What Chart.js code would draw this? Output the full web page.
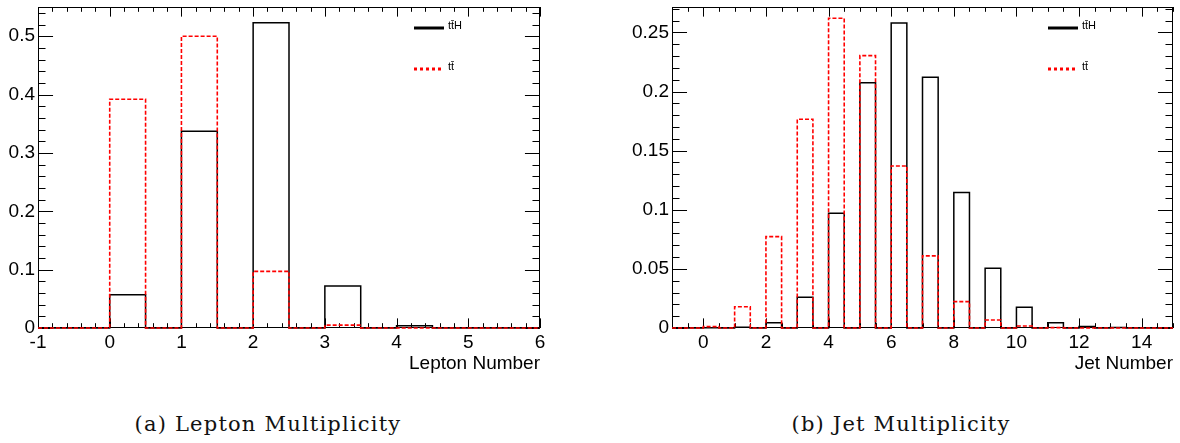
<!DOCTYPE html>
<html lang="en">

<head>
    <meta charset="UTF-8">
    <title>Lepton and Jet Multiplicity</title>
    <script src="https://cdn.jsdelivr.net/npm/chart.js"></script>
    <style>
        body {
            margin: 0;
            background: #fff;
            width: 1180px;
            height: 443px;
            position: relative;
            overflow: hidden;
        }

        .panel {
            position: absolute;
            top: 0;
            width: 590px;
            height: 380px;
        }

        .caption {
            position: absolute;
            top: 412px;
            line-height: 24px;
            font-family: 'DejaVu Serif', serif;
            font-size: 21px;
            letter-spacing: 1.2px;
            color: #111;
            white-space: nowrap;
            transform: translateX(-50%);
        }
    </style>
</head>

<body>
    <div class="panel" style="left:0"><canvas id="leptonChart"></canvas></div>
    <div class="panel" style="left:590px"><canvas id="jetChart"></canvas></div>
    <div class="caption" style="left:268px">(a) Lepton Multiplicity</div>
    <div class="caption" style="left:901px">(b) Jet Multiplicity</div>

    <script>
        // histogram bins (low edges), all bins 0.5 wide
        const binWidth = 0.5;
        const legendLabels = ['tt\u0304H', 'tt\u0304'];

        // (a) lepton multiplicity
        const leptonBins = [-1, -0.5, 0, 0.5, 1, 1.5, 2, 2.5, 3, 3.5, 4, 4.5, 5, 5.5];
        const leptonTTH = [0, 0, 0.057, 0, 0.337, 0, 0.523, 0, 0.072, 0, 0.004, 0, 0, 0];
        const leptonTT = [0, 0, 0.392, 0, 0.500, 0, 0.097, 0, 0.005, 0, 0, 0, 0, 0];
        const leptonXTicks = [-1, 0, 1, 2, 3, 4, 5, 6];
        const leptonYTicks = [0, 0.1, 0.2, 0.3, 0.4, 0.5];

        // (b) jet multiplicity
        const jetBins = [-1, -0.5, 0, 0.5, 1, 1.5, 2, 2.5, 3, 3.5, 4, 4.5, 5, 5.5, 6, 6.5,
            7, 7.5, 8, 8.5, 9, 9.5, 10, 10.5, 11, 11.5, 12, 12.5, 13, 13.5, 14, 14.5];
        const jetTTH = [0, 0, 0.0003, 0, 0.0006, 0, 0.0045, 0, 0.026, 0, 0.097, 0, 0.2075, 0, 0.258, 0,
            0.212, 0, 0.1145, 0, 0.0505, 0, 0.0175, 0, 0.0045, 0, 0.0012, 0, 0.0004, 0, 0.0001, 0];
        const jetTT = [0, 0, 0.0012, 0, 0.018, 0, 0.0773, 0, 0.1766, 0, 0.262, 0, 0.2304, 0, 0.137, 0,
            0.061, 0, 0.0223, 0, 0.0068, 0, 0.0017, 0, 0.0003, 0, 0, 0, 0, 0, 0, 0];
        const jetXTicks = [0, 2, 4, 6, 8, 10, 12, 14];
        const jetYTicks = [0, 0.05, 0.1, 0.15, 0.2, 0.25];

        const sans = 'Liberation Sans';

        // turn bins + contents into points for a step outline
        function steps(bins, vals) {
            const pts = bins.map((b, i) => ({ x: b, y: vals[i] }));
            pts.push({ x: bins[bins.length - 1] + binWidth, y: vals[vals.length - 1] });
            return pts;
        }

        // frame, inward ticks on all four sides and the little legend
        const rootFrame = {
            id: 'rootFrame',
            beforeDatasetsDraw(chart, args, opts) {
                const { ctx, chartArea: a, scales: { x, y } } = chart;
                ctx.save();
                ctx.strokeStyle = '#000';
                ctx.lineWidth = 1;
                ctx.strokeRect(a.left + 0.5, a.top + 0.5, a.width - 1, a.height - 1);

                const xLen = 0.03 * a.height, yLen = 0.03 * a.width;
                ctx.beginPath();
                for (let k = Math.ceil(x.min / opts.minorX - 1e-6); k * opts.minorX <= x.max + 1e-6; k++) {
                    const v = k * opts.minorX;
                    const major = opts.xTicks.some(t => Math.abs(t - v) < 1e-6);
                    const len = major ? xLen : xLen / 2;
                    const px = Math.round(x.getPixelForValue(v)) + 0.5;
                    ctx.moveTo(px, a.bottom); ctx.lineTo(px, a.bottom - len);
                    ctx.moveTo(px, a.top); ctx.lineTo(px, a.top + len);
                }
                for (let k = 0; k * opts.minorY <= y.max + 1e-6; k++) {
                    const v = k * opts.minorY;
                    const major = opts.yTicks.some(t => Math.abs(t - v) < 1e-6);
                    const len = major ? yLen : yLen / 2;
                    const py = Math.round(y.getPixelForValue(v)) + 0.5;
                    ctx.moveTo(a.left, py); ctx.lineTo(a.left + len, py);
                    ctx.moveTo(a.right, py); ctx.lineTo(a.right - len, py);
                }
                ctx.stroke();
                ctx.restore();
            },
            afterDraw(chart) {
                const { ctx, chartArea: a } = chart;
                ctx.save();
                chart.data.datasets.forEach((ds, i) => {
                    const ly = a.top + 21 + i * 41;
                    ctx.beginPath();
                    ctx.setLineDash(i ? [3, 3] : []);
                    ctx.lineWidth = 3;
                    ctx.strokeStyle = ds.borderColor;
                    ctx.moveTo(a.left + 376, ly);
                    ctx.lineTo(a.left + 406, ly);
                    ctx.stroke();
                    ctx.setLineDash([]);
                    ctx.fillStyle = '#000';
                    ctx.font = '11px "' + sans + '"';
                    ctx.fillText(ds.label, a.left + 410, ly + 1);
                });
                ctx.restore();
            }
        };

        function makeChart(id, bins, tth, tt, xTicks, yTicks, xMin, xMax, yMax, xTitle, yWidth, padRight, minorX, minorY) {
            const ctx = document.getElementById(id).getContext('2d');
            return new Chart(ctx, {
                type: 'line',
                data: {
                    datasets: [{
                        label: legendLabels[0],
                        data: steps(bins, tth),
                        borderColor: '#000000',
                        borderWidth: 1.5,
                        stepped: 'before',
                        pointRadius: 0,
                        clip: 3,
                        order: 2,
                    }, {
                        label: legendLabels[1],
                        data: steps(bins, tt),
                        borderColor: '#ff0000',
                        borderWidth: 1.6,
                        borderDash: [4, 2],
                        stepped: 'before',
                        pointRadius: 0,
                        clip: 3,
                        order: 1,
                    }],
                },
                options: {
                    responsive: true,
                    maintainAspectRatio: false,
                    animation: false,
                    layout: { padding: { top: 7, right: padRight, left: 0, bottom: 0 } },
                    plugins: {
                        legend: { display: false },
                        tooltip: { enabled: false },
                        rootFrame: { xTicks: xTicks, yTicks: yTicks, minorX: minorX, minorY: minorY },
                    },
                    scales: {
                        x: {
                            type: 'linear',
                            min: xMin,
                            max: xMax,
                            afterBuildTicks: s => { s.ticks = xTicks.map(v => ({ value: v })); },
                            afterFit: s => { s.height = 52; s.paddingLeft = 0; s.paddingRight = 0; },
                            grid: { display: false, drawTicks: false },
                            border: { display: false },
                            ticks: {
                                padding: 3, color: '#000', maxRotation: 0, autoSkip: false,
                                font: { family: sans, size: 19 },
                                callback: v => String(v),
                            },
                            title: {
                                display: true, text: xTitle, align: 'end', color: '#000',
                                font: { family: sans, size: 19 },
                                padding: { top: 0, bottom: 5 },
                            },
                        },
                        y: {
                            min: 0,
                            max: yMax,
                            afterBuildTicks: s => { s.ticks = yTicks.map(v => ({ value: v })); },
                            afterFit: s => { s.width = yWidth; s.paddingTop = 0; s.paddingBottom = 0; },
                            grid: { display: false, drawTicks: false },
                            border: { display: false },
                            ticks: {
                                padding: 3, color: '#000', autoSkip: false,
                                font: { family: sans, size: 19 },
                                callback: v => String(v),
                            },
                        },
                    },
                },
                plugins: [rootFrame],
            });
        }

        makeChart('leptonChart', leptonBins, leptonTTH, leptonTT, leptonXTicks, leptonYTicks,
            -1, 6, 0.55, 'Lepton Number', 38, 50, 0.2, 0.02);
        makeChart('jetChart', jetBins, jetTTH, jetTT, jetXTicks, jetYTicks,
            -1, 15, 0.2715, 'Jet Number', 82, 7, 0.5, 0.01);
    </script>
</body>

</html>
